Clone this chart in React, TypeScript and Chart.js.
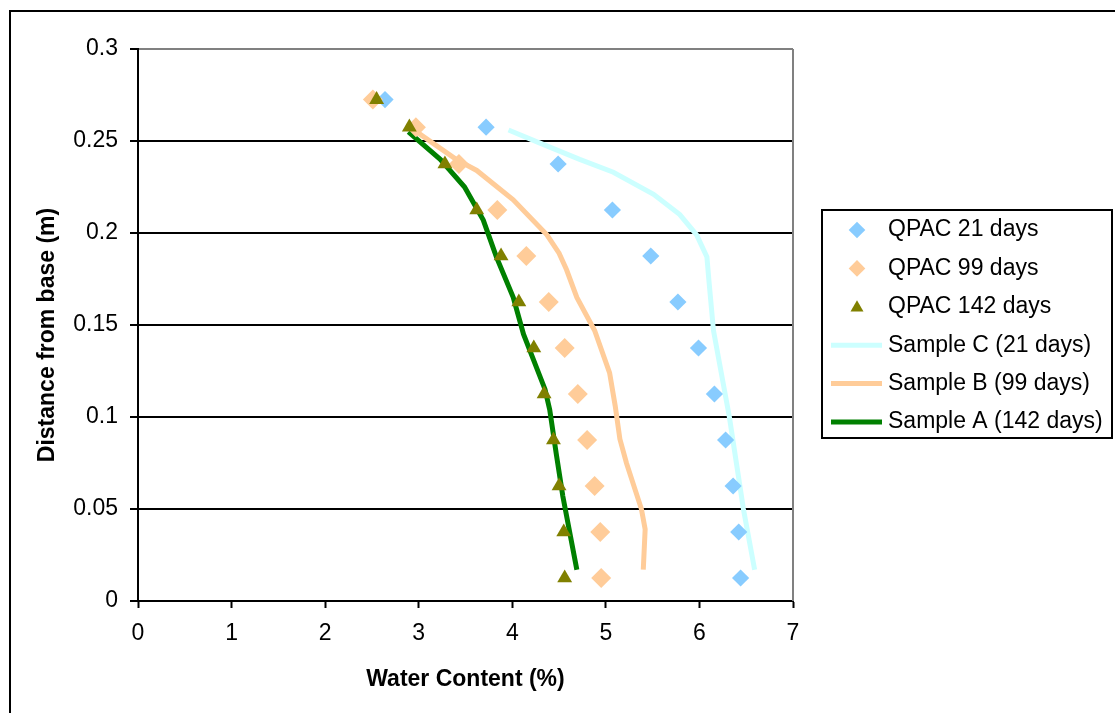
import React, { useEffect, useRef } from "react";
import { Chart, registerables } from "chart.js";

Chart.register(...registerables);

const FONT = '"Liberation Sans", Arial, Helvetica, sans-serif';

// Distance from base (m) for the QPAC measurement points
const depth = [0.2725, 0.2575, 0.2375, 0.2125, 0.1875, 0.1625, 0.1375, 0.1125, 0.0875, 0.0625, 0.0375, 0.0125];
// Water content (%) of the QPAC points
const qpac21 = [2.64, 3.72, 4.49, 5.07, 5.48, 5.77, 5.99, 6.16, 6.28, 6.36, 6.42, 6.44];
const qpac99 = [2.51, 2.97, 3.43, 3.84, 4.15, 4.39, 4.56, 4.7, 4.8, 4.88, 4.94, 4.95];
const qpac142 = [2.55, 2.9, 3.28, 3.62, 3.88, 4.07, 4.23, 4.34, 4.44, 4.5, 4.55, 4.56];

// Sample curves
const sampleCx = [3.96, 4.29, 4.72, 5.08, 5.51, 5.79, 5.97, 6.08, 6.1, 6.15, 6.32, 6.47, 6.59];
const sampleCy = [0.256, 0.249, 0.24, 0.233, 0.221, 0.21, 0.199, 0.187, 0.175, 0.147, 0.1, 0.05, 0.017];
const sampleBx = [2.92, 3.4, 3.62, 4.01, 4.37, 4.5, 4.58, 4.69, 4.88, 5.04, 5.1, 5.15, 5.22, 5.38, 5.42, 5.4];
const sampleBy = [0.257, 0.24, 0.234, 0.218, 0.199, 0.189, 0.18, 0.165, 0.147, 0.124, 0.106, 0.088, 0.075, 0.05, 0.039, 0.017];
const sampleAx = [2.89, 3.23, 3.49, 3.69, 3.83, 4.01, 4.12, 4.35, 4.4, 4.47, 4.54, 4.69];
const sampleAy = [0.255, 0.24, 0.225, 0.207, 0.187, 0.165, 0.145, 0.115, 0.104, 0.08, 0.057, 0.017];

const seriesLabels = [
  "QPAC 21 days",
  "QPAC 99 days",
  "QPAC 142 days",
  "Sample C (21 days)",
  "Sample B (99 days)",
  "Sample A (142 days)",
];
const seriesColors = ["#88CCFF", "#FFCC99", "#808000", "#CCFFFF", "#FFCC99", "#008000"];

const xTitle = "Water Content (%)";
const yTitle = "Distance from base (m)";
const xTicksMax = 7;
const yTicksMax = 0.3;

function pts(xs: number[], ys: number[]) {
  return xs.map((x, i) => ({ x, y: ys[i] }));
}

function drawMarker(ctx: CanvasRenderingContext2D, style: string, x: number, y: number, r: number, color: string) {
  ctx.save();
  ctx.fillStyle = color;
  ctx.beginPath();
  if (style === "rectRot") {
    ctx.moveTo(x, y - r);
    ctx.lineTo(x + r, y);
    ctx.lineTo(x, y + r);
    ctx.lineTo(x - r, y);
  } else {
    const edge = Math.sqrt(3) * r;
    const h = (edge * Math.sqrt(3)) / 2;
    ctx.moveTo(x, y - (2 * h) / 3);
    ctx.lineTo(x + edge / 2, y + h / 3);
    ctx.lineTo(x - edge / 2, y + h / 3);
  }
  ctx.closePath();
  ctx.fill();
  ctx.restore();
}

const framePlugin = {
  id: "frameAndLegend",
  beforeDraw(chart: any) {
    const ctx = chart.ctx as CanvasRenderingContext2D;
    ctx.save();
    ctx.fillStyle = "#fff";
    ctx.fillRect(0, 0, chart.width, chart.height);
    ctx.strokeStyle = "#000";
    ctx.lineWidth = 2;
    ctx.strokeRect(10, 11, chart.width + 100, chart.height + 100);
    ctx.restore();
  },
  beforeDatasetsDraw(chart: any) {
    const { ctx, chartArea } = chart;
    ctx.save();
    ctx.strokeStyle = "#808080";
    ctx.lineWidth = 2;
    ctx.beginPath();
    ctx.moveTo(chartArea.right, chartArea.top);
    ctx.lineTo(chartArea.right, chartArea.bottom);
    ctx.stroke();
    ctx.restore();
  },
  afterDraw(chart: any) {
    const { ctx, chartArea } = chart;
    ctx.save();
    // y-axis title (drawn manually to match the reference's offset)
    ctx.font = `bold 23px ${FONT}`;
    ctx.fillStyle = "#000";
    ctx.textAlign = "center";
    ctx.textBaseline = "middle";
    ctx.translate(47.5, (chartArea.top + chartArea.bottom) / 2 + 10);
    ctx.rotate(-Math.PI / 2);
    ctx.fillText(yTitle, 0, 0);
    ctx.restore();

    const left = chartArea.right + 29;
    const top = 210;
    const w = 290;
    const h = 228;
    ctx.save();
    ctx.fillStyle = "#fff";
    ctx.fillRect(left, top, w, h);
    ctx.strokeStyle = "#000";
    ctx.lineWidth = 2;
    ctx.strokeRect(left, top, w, h);
    ctx.font = `23px ${FONT}`;
    ctx.textBaseline = "middle";
    ctx.textAlign = "left";
    const legendOrder = [2, 1, 0, 5, 4, 3];
    chart.data.datasets.forEach((ds: any, k: number) => {
      const i = legendOrder[k];
      const y = top + 20 + i * 38.4;
      const mx = left + 35;
      if (ds.showLine) {
        ctx.strokeStyle = ds.borderColor;
        ctx.lineWidth = 5;
        ctx.beginPath();
        ctx.moveTo(left + 9, y);
        ctx.lineTo(left + 60, y);
        ctx.stroke();
      } else {
        const r = ds.pointStyle === "triangle" ? 7.5 : 8.3;
        drawMarker(ctx, ds.pointStyle, mx, y + (ds.pointStyle === "triangle" ? 1 : 0), r, ds.backgroundColor);
      }
      ctx.fillStyle = "#000";
      ctx.fillText(ds.label, left + 66, y);
    });
    ctx.restore();
  },
};

export default function App() {
  const ref = useRef<HTMLCanvasElement | null>(null);

  useEffect(() => {
    if (!ref.current) return;
    const chart = new Chart(ref.current, {
      type: "scatter",
      data: {
        // datasets listed top-drawn first (Chart.js draws index 0 last)
        datasets: [
          {
            label: seriesLabels[2],
            data: pts(qpac142, depth),
            pointStyle: "triangle",
            pointRadius: 8.6,
            backgroundColor: seriesColors[2],
            borderColor: seriesColors[2],
            borderWidth: 0,
            showLine: false,
          },
          {
            label: seriesLabels[1],
            data: pts(qpac99, depth),
            pointStyle: "rectRot",
            pointRadius: 10,
            backgroundColor: seriesColors[1],
            borderColor: seriesColors[1],
            borderWidth: 0,
            showLine: false,
          },
          {
            label: seriesLabels[0],
            data: pts(qpac21, depth),
            pointStyle: "rectRot",
            pointRadius: 8.6,
            backgroundColor: seriesColors[0],
            borderColor: seriesColors[0],
            borderWidth: 0,
            showLine: false,
          },
          {
            label: seriesLabels[5],
            data: pts(sampleAx, sampleAy),
            showLine: true,
            pointRadius: 0,
            borderColor: seriesColors[5],
            backgroundColor: seriesColors[5],
            borderWidth: 5,
            tension: 0,
          },
          {
            label: seriesLabels[4],
            data: pts(sampleBx, sampleBy),
            showLine: true,
            pointRadius: 0,
            borderColor: seriesColors[4],
            backgroundColor: seriesColors[4],
            borderWidth: 5,
            tension: 0,
          },
          {
            label: seriesLabels[3],
            data: pts(sampleCx, sampleCy),
            showLine: true,
            pointRadius: 0,
            borderColor: seriesColors[3],
            backgroundColor: seriesColors[3],
            borderWidth: 5,
            tension: 0,
          },
        ],
      },
      options: {
        responsive: false,
        animation: false,
        devicePixelRatio: 1,
        layout: { padding: { left: 0, top: 49, right: 322, bottom: 0 } },
        plugins: {
          legend: { display: false },
          tooltip: { enabled: false },
          title: { display: false },
        },
        scales: {
          x: {
            type: "linear",
            min: 0,
            max: xTicksMax,
            ticks: {
              stepSize: 1,
              color: "#000",
              font: { family: FONT, size: 23 },
              padding: 12,
              maxRotation: 0,
            },
            grid: {
              drawOnChartArea: false,
              tickLength: 7,
              tickColor: "#000",
              tickWidth: 2,
            },
            border: { color: "#000", width: 2 },
            title: {
              display: true,
              text: xTitle,
              color: "#000",
              font: { family: FONT, size: 23, weight: "bold" },
              padding: { top: 0, bottom: 20 },
            },
            afterFit: (s: any) => {
              s.height = 112;
            },
          },
          y: {
            type: "linear",
            min: 0,
            max: yTicksMax,
            ticks: {
              stepSize: 0.05,
              color: "#000",
              font: { family: FONT, size: 23 },
              padding: 12,
              callback: (v: any) => String(Number(Number(v).toFixed(2))),
            },
            grid: {
              color: (c: any) => (c.tick && c.tick.value >= yTicksMax - 1e-9 ? "#808080" : "#000"),
              lineWidth: 2,
              tickLength: 8,
              tickColor: "#000",
              tickWidth: 2,
            },
            border: { color: "#000", width: 2 },
            title: { display: false },
            afterFit: (s: any) => {
              s.width = 138;
            },
          },
        },
      } as any,
      plugins: [framePlugin],
    });
    return () => chart.destroy();
  }, []);

  return (
    <div
      style={{
        position: "fixed",
        left: 0,
        top: 0,
        width: 1115,
        height: 713,
        overflow: "hidden",
        background: "#fff",
      }}
    >
      <canvas ref={ref} width={1115} height={713} style={{ display: "block", width: 1115, height: 713 }} />
    </div>
  );
}
